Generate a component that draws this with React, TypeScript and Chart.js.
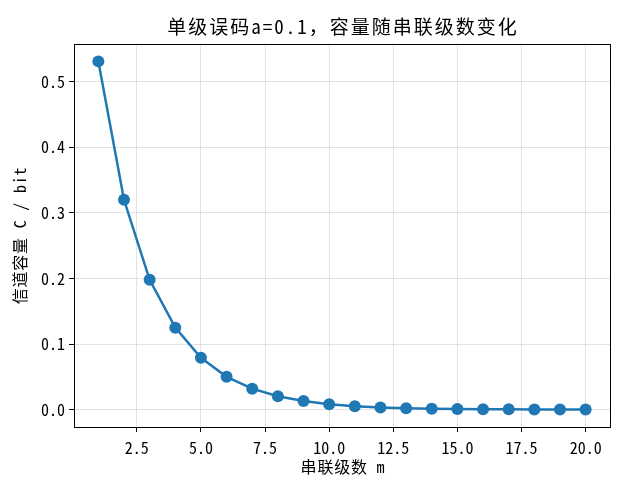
import React, { useEffect, useRef } from "react";
import { Chart, registerables } from "chart.js";

Chart.register(...registerables);

const stages = [1, 2, 3, 4, 5, 6, 7, 8, 9, 10, 11, 12, 13, 14, 15, 16, 17, 18, 19, 20];
const capacity = [0.531, 0.320, 0.198, 0.125, 0.079, 0.050, 0.032, 0.0204, 0.0130, 0.0083, 0.0053, 0.0034, 0.0022, 0.0014, 0.0009, 0.0006, 0.0004, 0.0002, 0.00015, 0.0001];
const xTicks = [2.5, 5.0, 7.5, 10.0, 12.5, 15.0, 17.5, 20.0];
const yTicks = [0.0, 0.1, 0.2, 0.3, 0.4, 0.5];
const titleText = "单级误码a=0.1，容量随串联级数变化";
const xTitle = "串联级数 m";
const yTitle = "信道容量 C / bit";

const FONT = "'Noto Sans Mono CJK SC', 'Noto Sans CJK SC', 'DejaVu Sans Mono', monospace";
const W = 621;
const H = 487;
const AREA = { left: 74, right: 610, top: 44, bottom: 427 };

export default function App() {
  const ref = useRef<HTMLCanvasElement | null>(null);
  useEffect(() => {
    if (!ref.current) return;
    const framePlugin = {
      id: "frame",
      afterDraw(chart: any) {
        const { ctx, chartArea } = chart;
        ctx.save();
        ctx.strokeStyle = "#000";
        ctx.lineWidth = 1;
        ctx.strokeRect(chartArea.left + 0.5, chartArea.top + 0.5, chartArea.right - chartArea.left, chartArea.bottom - chartArea.top);
        ctx.fillStyle = "#000";
        ctx.textAlign = "center";
        ctx.textBaseline = "middle";
        ctx.font = `19px ${FONT}`;
        (ctx as any).letterSpacing = "2px";
        ctx.fillText(titleText, (chartArea.left + chartArea.right) / 2 + 1, 27);
        ctx.font = `16px ${FONT}`;
        (ctx as any).letterSpacing = "0.8px";
        ctx.fillText(xTitle, (chartArea.left + chartArea.right) / 2 + 1, 467);
        ctx.translate(20, (chartArea.top + chartArea.bottom) / 2);
        ctx.rotate(-Math.PI / 2);
        ctx.fillText(yTitle, 0, 0);
        ctx.restore();
      },
    };
    const chart = new Chart(ref.current, {
      type: "line",
      data: {
        datasets: [
          {
            data: stages.map((m, i) => ({ x: m, y: capacity[i] })),
            borderColor: "#1f77b4",
            backgroundColor: "#1f77b4",
            borderWidth: 2.5,
            pointRadius: 6,
            pointBorderWidth: 0,
            pointBackgroundColor: "#1f77b4",
            tension: 0,
          },
        ],
      },
      options: {
        responsive: false,
        animation: false,
        layout: { padding: { left: 0, right: W - AREA.right, top: AREA.top, bottom: 0 } },
        plugins: { legend: { display: false }, title: { display: false }, tooltip: { enabled: false } },
        scales: {
          x: {
            type: "linear",
            min: 0.05,
            max: 20.95,
            afterBuildTicks(scale: any) {
              scale.ticks = xTicks.map((v) => ({ value: v }));
            },
            afterFit(scale: any) {
              scale.height = H - AREA.bottom;
            },
            grid: { color: "rgba(176,176,176,0.35)", tickColor: "#000", tickLength: 5, lineWidth: 1 },
            border: { display: false },
            ticks: {
              color: "#000",
              padding: 6,
              maxRotation: 0,
              autoSkip: false,
              font: { family: FONT, size: 16 },
              callback: (v: any) => Number(v).toFixed(1),
            },
          },
          y: {
            type: "linear",
            min: -0.0265,
            max: 0.5575,
            afterBuildTicks(scale: any) {
              scale.ticks = yTicks.map((v) => ({ value: v }));
            },
            afterFit(scale: any) {
              scale.width = AREA.left;
            },
            grid: { color: "rgba(176,176,176,0.35)", tickColor: "#000", tickLength: 5, lineWidth: 1 },
            border: { display: false },
            ticks: {
              color: "#000",
              padding: 4,
              autoSkip: false,
              font: { family: FONT, size: 16 },
              callback: (v: any) => Number(v).toFixed(1),
            },
          },
        },
      },
      plugins: [framePlugin],
    });
    return () => chart.destroy();
  }, []);
  return (
    <div style={{ position: "absolute", left: 0, top: 0, width: W, height: H, background: "#fff" }}>
      <canvas ref={ref} width={W} height={H} style={{ width: W, height: H }} />
    </div>
  );
}
